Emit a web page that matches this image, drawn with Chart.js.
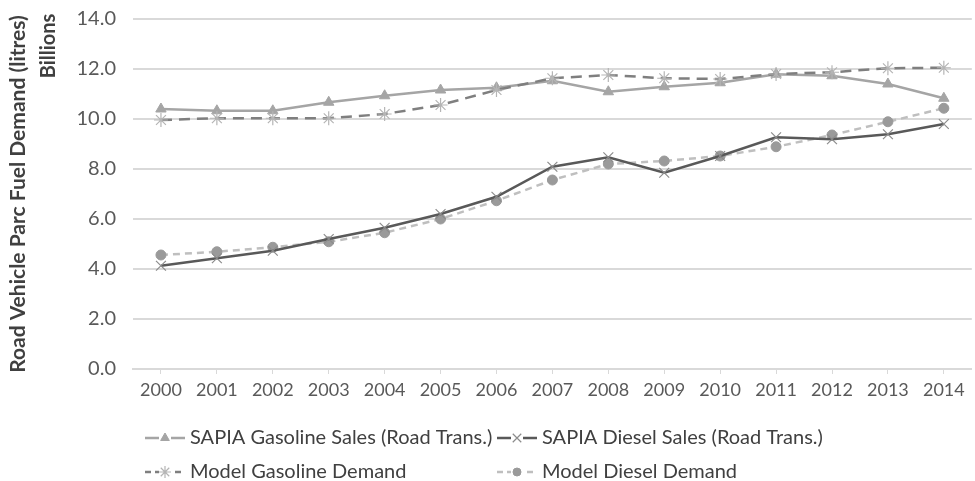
<!DOCTYPE html>
<html>
<head>
<meta charset="utf-8">
<script src="https://cdn.jsdelivr.net/npm/chart.js@4"></script>
<style>
  html, body { margin: 0; padding: 0; background: #fff; overflow: hidden; }
  #wrap { width: 975px; height: 481px; overflow: hidden; }
</style>
</head>
<body>
<div id="wrap"><canvas id="fuel-chart" width="980" height="481"></canvas></div>
<script>
const years = ['2000', '2001', '2002', '2003', '2004', '2005', '2006', '2007',
    '2008', '2009', '2010', '2011', '2012', '2013', '2014'];

// billions of litres
const sapiaGasoline = [10.40, 10.33, 10.33, 10.67, 10.93, 11.16, 11.25, 11.53,
    11.09, 11.29, 11.45, 11.79, 11.73, 11.40, 10.83];
const sapiaDiesel = [4.13, 4.43, 4.73, 5.20, 5.65, 6.20, 6.89, 8.09,
    8.47, 7.85, 8.52, 9.27, 9.19, 9.39, 9.80];
const modelGasoline = [9.96, 10.03, 10.03, 10.03, 10.20, 10.56, 11.16, 11.63,
    11.76, 11.63, 11.60, 11.80, 11.87, 12.03, 12.05];
const modelDiesel = [4.56, 4.69, 4.87, 5.09, 5.45, 6.00, 6.73, 7.56,
    8.20, 8.32, 8.52, 8.89, 9.36, 9.89, 10.43];

const seriesNames = ['SAPIA Gasoline Sales (Road Trans.)', 'SAPIA Diesel Sales (Road Trans.)',
    'Model Gasoline Demand', 'Model Diesel Demand'];

const FONT = 'Lato, "Open Sans", sans-serif';
const TEXT = '#595959';

// legend laid out in two columns, like the original
const legendPlugin = {
    id: 'gridLegend',
    afterDraw(chart) {
        const ctx = chart.ctx;
        const spots = [[145, 438], [497, 438], [145, 472], [497, 472]];
        chart.data.datasets.forEach((ds, i) => {
            const [x, y] = spots[i];
            ctx.save();
            ctx.strokeStyle = ds.borderColor;
            ctx.lineWidth = ds.borderWidth;
            ctx.setLineDash(ds.borderDash ? [6, 4] : []);
            ctx.beginPath();
            ctx.moveTo(x, y);
            ctx.lineTo(x + 40, y);
            ctx.stroke();
            ctx.setLineDash([]);
            ctx.fillStyle = '#fff';
            ctx.fillRect(x + 14, y - 6, 12, 12);
            ctx.fillStyle = ds.pointBackgroundColor;
            ctx.strokeStyle = ds.pointBorderColor;
            ctx.lineWidth = ds.pointBorderWidth;
            Chart.helpers.drawPoint(ctx, {
                pointStyle: ds.pointStyle,
                radius: ds.pointRadius - 1,
                rotation: 0,
                borderWidth: ds.pointBorderWidth
            }, x + 20, y);
            ctx.fillStyle = '#404040';
            ctx.font = '20px ' + FONT;
            ctx.textBaseline = 'middle';
            ctx.fillText(ds.label, x + 45, y);
            ctx.restore();
        });

        // display units label
        ctx.save();
        ctx.translate(49, 46);
        ctx.rotate(-Math.PI / 2);
        ctx.font = 'bold 20px ' + FONT;
        ctx.fillStyle = '#404040';
        ctx.textAlign = 'center';
        ctx.textBaseline = 'middle';
        ctx.fillText('Billions', 0, 0);
        ctx.restore();
    }
};

const ctx = document.getElementById('fuel-chart').getContext('2d');

new Chart(ctx, {
    type: 'line',
    data: {
        labels: years,
        datasets: [{
            label: seriesNames[0],
            data: sapiaGasoline,
            borderColor: '#a5a5a5',
            borderWidth: 2.5,
            pointStyle: 'triangle',
            pointRadius: 6,
            pointBackgroundColor: '#a5a5a5',
            pointBorderColor: '#a5a5a5',
            pointBorderWidth: 1,
            tension: 0,
            order: 3
        }, {
            label: seriesNames[1],
            data: sapiaDiesel,
            borderColor: '#595959',
            borderWidth: 2.5,
            pointStyle: 'crossRot',
            pointRadius: 7,
            pointBackgroundColor: '#8c8c8c',
            pointBorderColor: '#8c8c8c',
            pointBorderWidth: 1.2,
            tension: 0,
            order: 1
        }, {
            label: seriesNames[2],
            data: modelGasoline,
            borderColor: '#7f7f7f',
            borderWidth: 2.5,
            borderDash: [11, 7],
            pointStyle: 'star',
            pointRadius: 7,
            pointBackgroundColor: '#bfbfbf',
            pointBorderColor: '#b5b5b5',
            pointBorderWidth: 1.2,
            tension: 0,
            order: 2
        }, {
            label: seriesNames[3],
            data: modelDiesel,
            borderColor: '#bfbfbf',
            borderWidth: 2.5,
            borderDash: [7, 5],
            pointStyle: 'circle',
            pointRadius: 5,
            pointBackgroundColor: '#9a9a9a',
            pointBorderColor: '#9a9a9a',
            pointBorderWidth: 1,
            tension: 0,
            order: 4
        }]
    },
    options: {
        responsive: false,
        animation: false,
        layout: {
            padding: { left: 0, top: 19, right: 0, bottom: 0 }
        },
        scales: {
            x: {
                offset: true,
                grid: {
                    drawOnChartArea: false,
                    drawTicks: true,
                    tickLength: 5,
                    color: '#d9d9d9',
                    lineWidth: 1
                },
                border: { color: '#d9d9d9', width: 2 },
                ticks: {
                    color: TEXT,
                    font: { family: FONT, size: 18 },
                    padding: 5,
                    autoSkip: false,
                    maxRotation: 0
                },
                afterFit: (scale) => { scale.height = 112; }
            },
            y: {
                min: 0,
                max: 14,
                grid: {
                    color: '#d9d9d9',
                    lineWidth: 2,
                    drawTicks: false
                },
                border: { display: false },
                ticks: {
                    stepSize: 2,
                    color: TEXT,
                    padding: 17,
                    font: { family: FONT, size: 20 },
                    callback: (v) => v.toFixed(1)
                },
                title: {
                    display: true,
                    text: 'Road Vehicle Parc Fuel Demand (litres)',
                    color: '#404040',
                    font: { family: FONT, size: 21, weight: 'bold' },
                    padding: { top: 6, bottom: 0 }
                },
                afterFit: (scale) => {
                    scale.width = 133;
                    // keep the label padding from pushing the plot area down
                    scale.paddingTop = 10;
                    scale.paddingBottom = 10;
                }
            }
        },
        plugins: {
            legend: { display: false },
            tooltip: { enabled: false }
        }
    },
    plugins: [legendPlugin]
});
</script>
</body>
</html>
